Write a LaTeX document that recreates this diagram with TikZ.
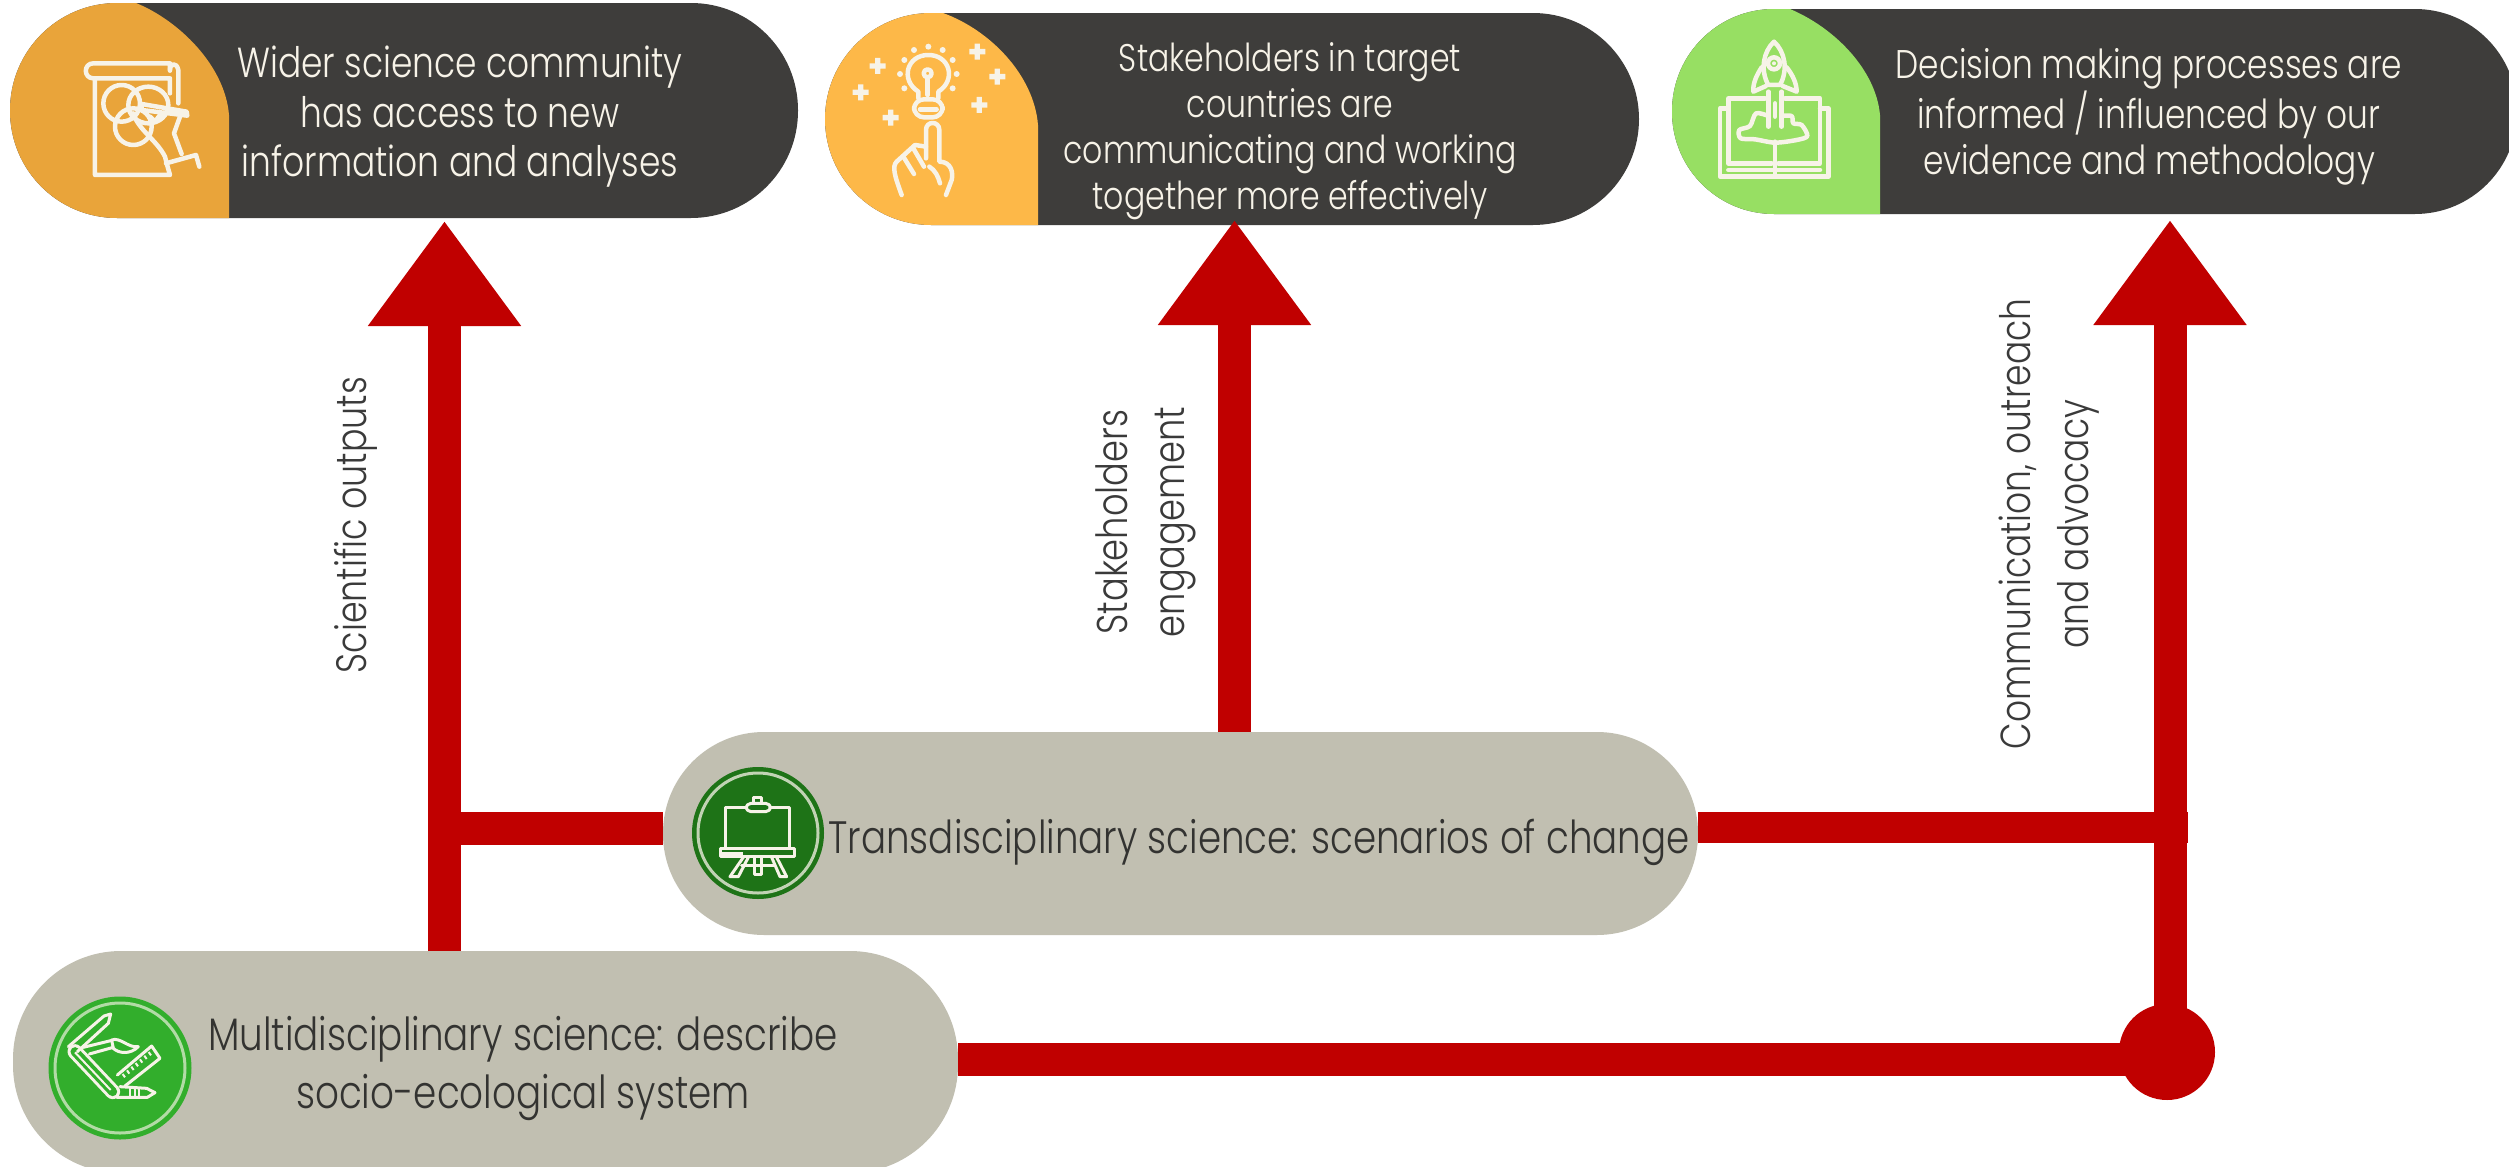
\documentclass[tikz,border=0pt]{standalone}
\usepackage{fontspec}
\usetikzlibrary{arrows.meta}
\newfontfamily\litefont[UprightFont=* Light,FakeStretch=0.82]{Poppins}
\definecolor{darkpill}{HTML}{3E3D3B}
\definecolor{capa}{HTML}{E9A43A}
\definecolor{capb}{HTML}{FDB848}
\definecolor{capc}{HTML}{97DF63}
\definecolor{graypill}{HTML}{C1BFB1}
\definecolor{flowred}{HTML}{C00000}
\definecolor{dkgreen}{HTML}{1E7317}
\definecolor{ltgreen}{HTML}{32AE2C}
\definecolor{iconline}{HTML}{F7F3E8}
\definecolor{darktext}{HTML}{333331}
\definecolor{sidetext}{HTML}{3A3A3A}
\tikzset{
  pillnode/.style={rectangle,inner sep=0pt,outer sep=0pt,anchor=north west},
  darkbox/.style={pillnode,fill=darkpill},
  graybox/.style={pillnode,fill=graypill},
  flow/.style={draw=flowred,line width=33pt},
  flowtip/.style={flow,-{Triangle[length=105pt,width=146pt]}},
  wtext/.style={text=iconline,align=center,inner sep=0pt},
  ktext/.style={text=darktext,align=center,inner sep=0pt},
  stext/.style={text=sidetext,align=center,inner sep=0pt,rotate=90},
  icon/.style={draw=iconline,line width=4.5pt,line cap=round,line join=round},
  iconthin/.style={draw=iconline,line width=3pt,line cap=round,line join=round},
  ring/.style={circle,inner sep=0pt,outer sep=0pt}
}
\newcommand{\lightsize}[2]{\litefont\fontsize{#1}{#2}\selectfont}
\newcommand{\plussign}[1]{\fill[iconline] #1 +(-8,-24) rectangle +(8,24) +(-24,-8) rectangle +(24,8);}
\begin{document}
\begin{tikzpicture}[x=1pt,y=-1pt]
\useasboundingbox (0,0) rectangle (2509,1167);
\clip (0,0) rectangle (2509,1167);
\fill[white] (0,0) rectangle (2509,1167);

% pills
\node[darkbox,rounded corners=107pt,minimum width=788pt,minimum height=215pt] (B1) at (10,3) {};
\node[darkbox,rounded corners=106pt,minimum width=814pt,minimum height=212pt] (B2) at (825,13) {};
\node[darkbox,rounded corners=102pt,minimum width=845pt,minimum height=205pt] (B3) at (1672,9) {};
\node[graybox,rounded corners=101pt,minimum width=1035pt,minimum height=203pt] (T) at (663,732) {};
\node[graybox,rounded corners=108pt,minimum width=945pt,minimum height=222pt] (M) at (13,951) {};

% coloured caps
\begin{scope}
\clip[rounded corners=107pt] (B1.north west) rectangle (B1.south east);
\fill[capa] (0,0) -- (136,3) .. controls (178,20) and (225,65) .. (229,115) -- (229,218) -- (0,218) -- cycle;
\end{scope}
\begin{scope}
\clip[rounded corners=106pt] (B2.north west) rectangle (B2.south east);
\fill[capb] (820,0) -- (943,13) .. controls (990,30) and (1034,75) .. (1038,125) -- (1038,225) -- (820,225) -- cycle;
\end{scope}
\begin{scope}
\clip[rounded corners=102pt] (B3.north west) rectangle (B3.south east);
\fill[capc] (1665,0) -- (1790,9) .. controls (1835,28) and (1876,70) .. (1880,115) -- (1880,214) -- (1665,214) -- cycle;
\end{scope}

% coordinates of the connectors
\coordinate (tipa) at (444.5,221);
\coordinate (tipb) at (1234.5,220);
\coordinate (tipc) at (2170,220);
\coordinate (joina) at (444.5,828.5);
\coordinate (joinc) at (2188,827.5);
\coordinate (lowbar) at (958,1059.5);

% connectors
\node[ring,fill=flowred,minimum size=96pt] (D) at (2167,1052) {};
\draw[flowtip] (tipa |- M.north) -- (tipa);
\draw[flowtip] (tipb |- T.north) -- (tipb);
\draw[flowtip] (tipc |- D.center) -- (tipc);
\draw[flow] (joina) -- (T.west |- joina);
\draw[flow,line width=31pt] (T.east |- joinc) -- (joinc);
\draw[flow] (lowbar) -- (D.center |- lowbar);

% medallions
\node[ring,fill=dkgreen,minimum size=132pt] (CT) at (758,833) {};
\draw[iconline!75!dkgreen,line width=3pt] (CT.center) circle (60);
\node[ring,fill=ltgreen,minimum size=143pt] (CM) at (120,1068) {};
\draw[iconline!65!ltgreen,line width=3pt] (CM.center) circle (65);

% texts
\node[wtext,font=\lightsize{42}{49.5}] (TA) at (460,117) {Wider science community\\has access to new\\information and analyses};
\node[wtext,font=\lightsize{38.5}{46}] (TB) at (1290,131) {Stakeholders in target\\countries are\\communicating and working\\together more effectively};
\node[wtext,font=\lightsize{40}{46.5}] (TC) at (2149,117) {Decision making processes are\\informed / influenced by our\\evidence and methodology};
\node[ktext,font=\lightsize{45.5}{58}] (TM) at (523,1068) {Multidisciplinary science: describe\\socio-ecological system};
\node[ktext,font=\lightsize{45.4}{50}] (TT) at (1259,842) {Transdisciplinary science: scenarios of change};
\node[stext,font=\lightsize{42.5}{57}] (LA) at (356,525) {Scientific outputs};
\node[stext,font=\lightsize{43}{57}] (LB) at (1146,522) {Stakeholders\\engagement};
\node[stext,font=\lightsize{42}{58}] (LC) at (2049,524) {Communication, outreach\\and advocacy};

% icon: drawing on a pad
\begin{scope}[shift={(70,50)},scale=.3333]
\draw[icon] (300,60) .. controls (300,40) and (320,35) .. (325,60) -- (325,160);
\draw[icon] (300,62) -- (300,40) -- (70,40) .. controls (40,40) and (40,85) .. (70,85) -- (300,85) -- (300,130);
\draw[icon] (75,85) -- (75,375) -- (300,375) -- (290,340);
\draw[icon] (155,160) circle (55);
\draw[icon] (235,165) ellipse (60 and 55);
\draw[icon] (190,230) ellipse (55 and 55);
\draw[icon] (215,162) -- (350,185) -- (352,197) -- (215,180) -- cycle;
\draw[icon] (190,190) .. controls (205,240) and (260,270) .. (285,320) -- (290,340);
\draw[icon] (330,200) -- (312,250) -- (335,312);
\draw[icon] (288,340) -- (378,315) -- (388,350);
\draw[icon] (240,200) -- (255,215) -- (270,195);
\end{scope}

% icon: bulb and finger
\begin{scope}[shift={(840,30)},scale=.3333]
\draw[icon] (235,205) -- (235,185) .. controls (180,150) and (200,75) .. (265,75) .. controls (330,75) and (350,150) .. (295,185) -- (295,205);
\draw[icon,rounded corners=10pt] (222,208) rectangle (308,262);
\draw[icon] (240,238) -- (290,238);
\draw[icon] (263,130) circle (12);
\draw[icon] (263,142) -- (263,195);
\foreach \px/\py in {265/50,222/60,308/60,193/90,338/90,180/132,350/132,193/175,338/175}
  \fill[iconline] (\px,\py) circle (9);
\plussign{(412,65)}\plussign{(472,140)}\plussign{(418,225)}\plussign{(113,108)}\plussign{(62,187)}\plussign{(152,263)}
\draw[icon] (258,385) -- (258,300) .. controls (258,272) and (298,272) .. (298,300) -- (298,395) .. controls (335,395) and (340,430) .. (335,450) -- (318,495);
\draw[icon] (258,350) -- (225,345) -- (170,395) .. controls (155,410) and (165,440) .. (185,495);
\draw[icon] (190,380) -- (222,432);
\draw[icon] (220,355) -- (252,410);
\draw[icon] (268,410) .. controls (285,420) and (295,440) .. (300,460);
\end{scope}

% icon: rocket over book
\begin{scope}[shift={(1700,30)},scale=.3333]
\draw[icon] (222,35) .. controls (190,65) and (180,120) .. (205,165) -- (240,165) .. controls (265,120) and (255,65) .. (222,35) -- cycle;
\draw[icon] (185,112) .. controls (170,135) and (158,160) .. (160,185) -- (198,168);
\draw[icon] (260,112) .. controls (278,135) and (290,160) .. (290,185) -- (248,168);
\draw[icon] (222,100) circle (18);
\fill[iconline] (222,100) circle (6);
\draw[icon] (205,185) -- (205,290);
\draw[icon] (245,185) -- (245,290);
\draw[icon] (225,220) -- (225,260);
\draw[icon] (195,205) -- (85,205) -- (85,400) -- (215,400);
\draw[icon] (255,205) -- (360,205) -- (360,400) -- (235,400);
\draw[icon] (85,235) -- (60,235) -- (60,440) -- (385,440) -- (385,235) -- (360,235);
\draw[icon] (85,420) -- (360,420);
\draw[icon] (225,335) -- (225,440);
\draw[icon] plot[smooth] coordinates {(205,258) (168,250) (150,288) (118,300) (122,325) (165,328) (225,338) (290,330) (322,318) (305,285) (280,280) (275,258) (245,258)};
\end{scope}

% icon: multi tool
\begin{scope}[shift={(40,990)},scale=.3333]
\draw[iconline,line width=15pt,line cap=round] (105,185) -- (218,305);
\draw[ltgreen,line width=9pt,line cap=round] (105,185) -- (218,305);
\draw[iconline,line width=2pt] (105,187) -- (212,300);
\draw[iconthin] (85,170) -- (192,78) -- (212,72) -- (205,100) -- (112,185);
\draw[iconthin] (130,172) -- (212,152);
\draw[iconthin] (148,192) -- (220,172);
\draw[iconthin] (215,150) .. controls (240,140) and (265,175) .. (295,170) .. controls (270,195) and (235,190) .. (220,175) -- cycle;
\draw[iconthin] (232,255) -- (335,168) -- (360,205) -- (255,288);
\foreach \tk in {0,1,2,3,4,5,6} \draw[iconline,line width=2pt] ({248+\tk*13},{252-\tk*11}) -- ({255+\tk*13},{262-\tk*11});
\draw[iconthin] (240,290) -- (320,295) -- (345,308) -- (322,322) -- (230,322);
\foreach \tk in {0,1,2} \draw[iconline,line width=2pt] ({270+\tk*14},295) -- ({270+\tk*14},320);
\end{scope}

% icon: easel
\begin{scope}[shift={(680,760)},scale=.3333]
\draw[iconthin] (135,265) -- (135,142) -- (198,142);
\draw[iconthin] (270,142) -- (330,142) -- (330,265);
\draw[iconthin,rounded corners=5pt] (198,130) rectangle (272,155);
\draw[iconthin] (220,130) -- (220,112) -- (245,112) -- (245,130);
\draw[iconthin] (122,266) rectangle (345,290);
\fill[iconline] (122,276) rectangle (190,290);
\draw[iconthin] (190,292) -- (150,350) -- (175,350) -- (205,292);
\draw[iconthin] (275,292) -- (300,350) -- (320,350) -- (290,292);
\draw[iconthin] (185,318) -- (282,318);
\draw[iconthin] (222,292) -- (222,345) -- (245,345) -- (245,292);
\end{scope}
\end{tikzpicture}
\end{document}
